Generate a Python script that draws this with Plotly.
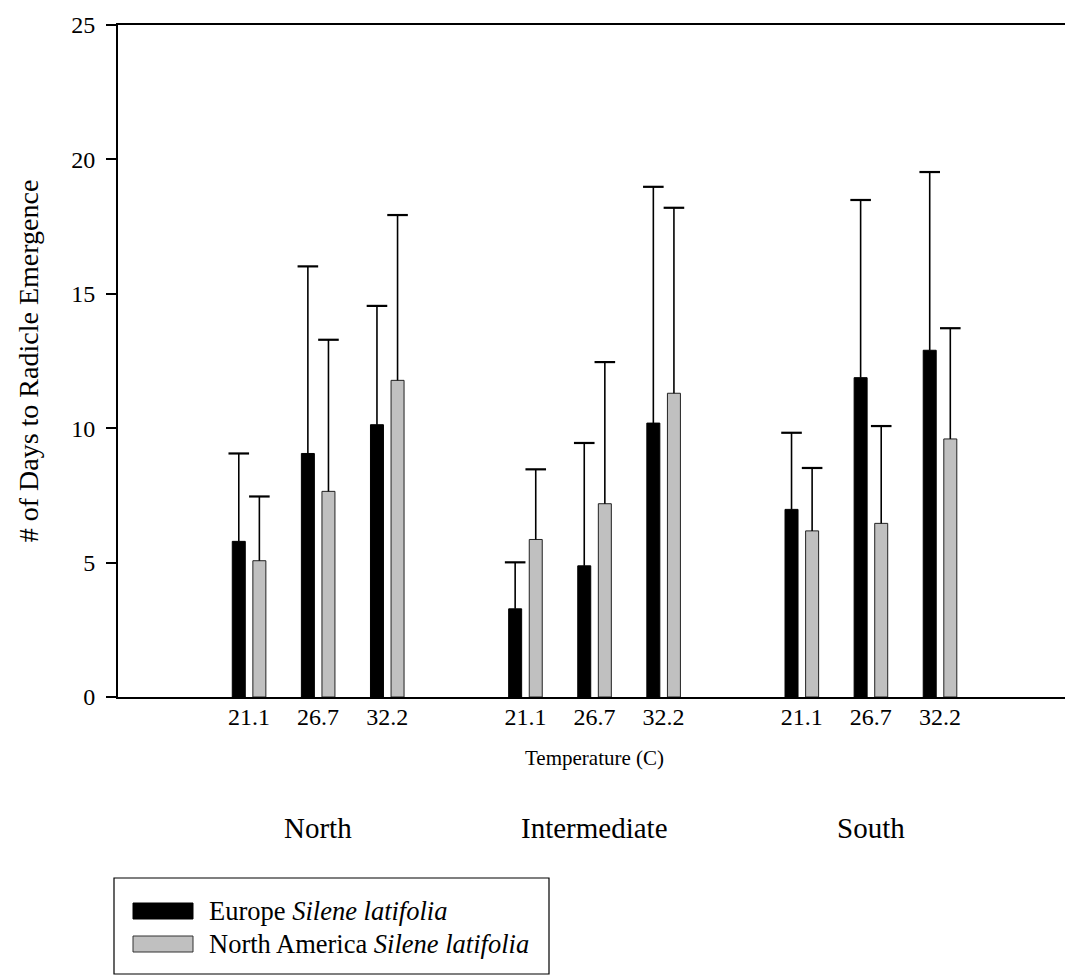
import plotly.graph_objects as go

# ---------------- data ----------------
regions = ["North", "Intermediate", "South"]
temps = ["21.1", "26.7", "32.2"]

europe_mean = [5.79, 9.06, 10.13, 3.28, 4.88, 10.19, 6.98, 11.88, 12.90]
europe_err = [3.27, 6.96, 4.42, 1.73, 4.57, 8.79, 2.85, 6.61, 6.63]

na_mean = [5.07, 7.65, 11.78, 5.86, 7.19, 11.30, 6.18, 6.46, 9.60]
na_err = [2.39, 5.64, 6.15, 2.61, 5.27, 6.90, 2.34, 3.62, 4.12]

y_ticks = [0, 5, 10, 15, 20, 25]

# ---------------- layout helpers ----------------
W, H = 1065, 978
ML, MR, MT, MB = 118, 0, 25, 281
PW, PH = W - ML - MR, H - MT - MB

positions = [2 + 4 * g + t for g in range(len(regions)) for t in range(len(temps))]
group_centers = [2 + 4 * g + 1 for g in range(len(regions))]
xlabels = [temps[t] for g in range(len(regions)) for t in range(len(temps))]

BAR_W = 0.188
OFF_EU = -0.242
OFF_NA = 0.056
CAP = 0.149

def py(ypx):
    return (MT + PH - ypx) / PH

def px(xpx):
    return (xpx - ML) / PW

FONT = "Liberation Serif, Times New Roman, serif"

fig = go.Figure()

fig.add_trace(go.Bar(
    x=positions, y=europe_mean, width=BAR_W, offset=OFF_EU,
    marker=dict(color="black", line=dict(color="black", width=1)),
    name="Europe Silene latifolia", showlegend=False,
))
fig.add_trace(go.Bar(
    x=positions, y=na_mean, width=BAR_W, offset=OFF_NA,
    marker=dict(color="#c0c0c0", line=dict(color="#222222", width=1)),
    name="North America Silene latifolia", showlegend=False,
))

# upper error bars (stems + caps)
def err_traces(means, errs, off):
    sx, sy, cx, cy = [], [], [], []
    for p, m, e in zip(positions, means, errs):
        c = p + off + BAR_W / 2
        sx += [c, c, None]
        sy += [m, m + e, None]
        cx += [c - CAP, c + CAP, None]
        cy += [m + e, m + e, None]
    return [
        go.Scatter(x=sx, y=sy, mode="lines", line=dict(color="black", width=1.6),
                   showlegend=False, hoverinfo="skip"),
        go.Scatter(x=cx, y=cy, mode="lines", line=dict(color="black", width=2.2),
                   showlegend=False, hoverinfo="skip"),
    ]

for tr in err_traces(europe_mean, europe_err, OFF_EU) + err_traces(na_mean, na_err, OFF_NA):
    fig.add_trace(tr)

fig.update_layout(
    width=W, height=H,
    margin=dict(l=ML, r=MR, t=MT, b=MB, autoexpand=False),
    paper_bgcolor="white", plot_bgcolor="white",
    barmode="overlay",
    font=dict(family=FONT, color="black"),
    showlegend=False,
)

fig.update_xaxes(
    range=[0.104, 13.81], tickmode="array", tickvals=positions, ticktext=xlabels,
    showline=True, linecolor="black", linewidth=2, mirror=True,
    showgrid=False, zeroline=False, ticks="",
    tickfont=dict(family=FONT, size=24), ticklabelstandoff=-3,
)
fig.update_yaxes(
    range=[0, 25], tickmode="array", tickvals=y_ticks,
    showline=True, linecolor="black", linewidth=2,
    showgrid=False, zeroline=False, ticks="outside", ticklen=10, tickwidth=2,
    tickcolor="black", ticklabelstandoff=6,
    tickfont=dict(family=FONT, size=24),
    title=dict(text="# of Days to Radicle Emergence", font=dict(family=FONT, size=28), standoff=24),
)

annotations = [
    dict(text="Temperature (C)", x=group_centers[1], xref="x", y=py(758), yref="paper",
         showarrow=False, font=dict(family=FONT, size=21), xanchor="center", yanchor="middle"),
]
for name, gc in zip(regions, group_centers):
    annotations.append(dict(text=name, x=gc, xref="x", y=py(828), yref="paper",
                            showarrow=False, font=dict(family=FONT, size=29),
                            xanchor="center", yanchor="middle"))

# legend (manual box)
leg_rows = [("Europe <i>Silene latifolia</i>", "black", "black", 911),
            ("North America <i>Silene latifolia</i>", "#c0c0c0", "#333333", 944)]
shapes = [dict(type="rect", xref="paper", yref="paper",
               x0=px(114), x1=px(549), y0=py(878), y1=py(974),
               line=dict(color="black", width=1.2), fillcolor="white", layer="above")]
for text, fill, edge, yc in leg_rows:
    shapes.append(dict(type="rect", xref="paper", yref="paper",
                       x0=px(133), x1=px(193), y0=py(yc - 8), y1=py(yc + 8),
                       line=dict(color=edge, width=1), fillcolor=fill, layer="above"))
    annotations.append(dict(text=text, x=px(207), xref="paper", y=py(yc), yref="paper",
                            showarrow=False, font=dict(family=FONT, size=26.5),
                            xanchor="left", yanchor="middle"))

fig.update_layout(annotations=annotations, shapes=shapes)

fig.write_html("out.html")
